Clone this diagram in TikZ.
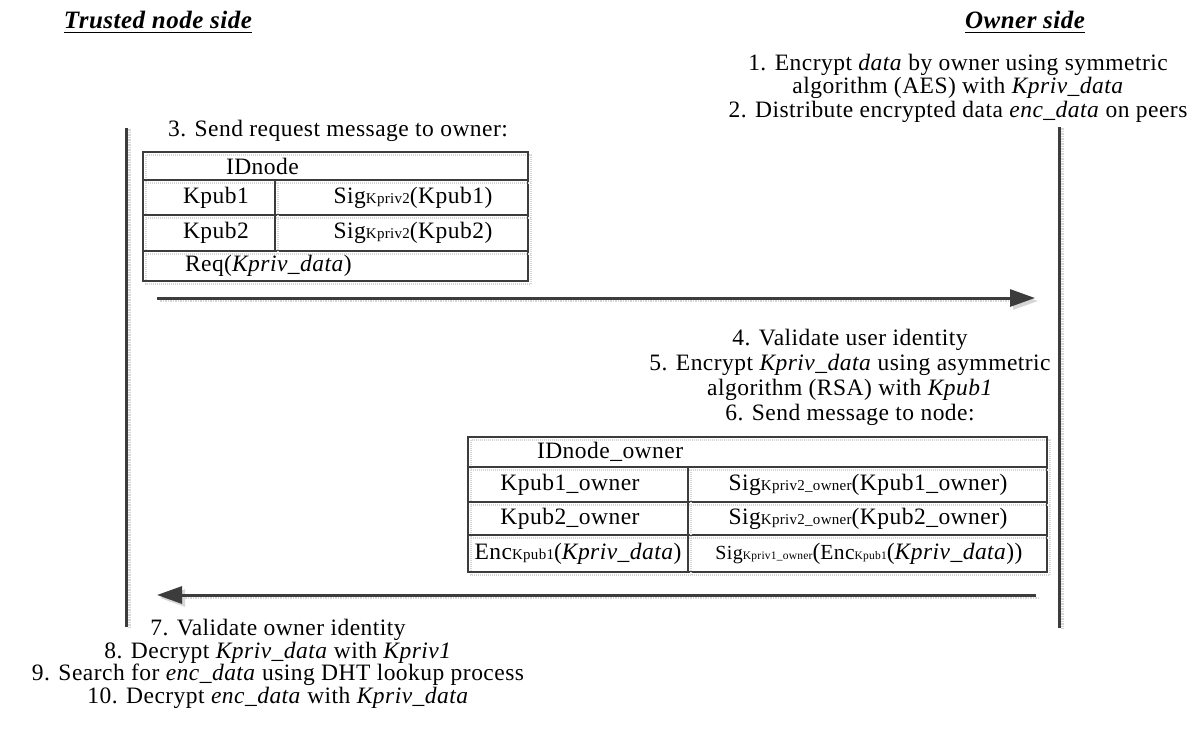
\documentclass[tikz,border=0pt]{standalone}
\usepackage{fontspec}
\setmainfont{Liberation Serif}[LetterSpace=2]
\usetikzlibrary{arrows.meta}
\definecolor{inkgray}{HTML}{3C3C3C}
\definecolor{shade}{HTML}{D6D6D6}
% smaller text used for the key names written after Sig / Enc
\newcommand{\keysub}[1]{{\fontsize{15}{15}\selectfont #1}}
\newcommand{\keytiny}[1]{{\fontsize{11.5}{11.5}\selectfont #1}}
\tikzset{
  every node/.style={inner sep=0pt, outer sep=0pt, text=black},
  body/.style={font=\fontsize{23.5}{24}\selectfont},
  heading/.style={font=\fontsize{25}{26}\selectfont\bfseries\itshape},
  headline/.style={draw=black, line width=1.8pt},
  lifeline/.style={draw=inkgray, line width=3pt,
    preaction={draw=shade, line width=3pt, dash pattern=on 1.5pt off 1pt,
      transform canvas={shift={(3pt,-1pt)}}}},
  message/.style={draw=inkgray, line width=3pt,
    -{Triangle[length=25pt,width=17pt]},
    preaction={draw=shade, line width=2.5pt, dash pattern=on 1.5pt off 1pt,
      transform canvas={shift={(3pt,-3pt)}}}},
  grid/.style={draw=inkgray, line width=1.8pt,
    preaction={draw=shade, line width=1.2pt, dash pattern=on 1pt off 1pt,
      transform canvas={shift={(3pt,-3pt)}}}},
}
\begin{document}
\begin{tikzpicture}[x=1pt, y=-1pt]
\useasboundingbox[fill=white] (0,0) rectangle (1190,729);

% column headings, underlined
\node[heading] (trusted) at (158,20) {Trusted node side};
\node[heading] (owner)   at (1025,20) {Owner side};
\draw[headline] ([yshift=-4pt]trusted.base west) -- ([yshift=-4pt]trusted.base east);
\draw[headline] ([yshift=-4pt]owner.base west) -- ([yshift=-4pt]owner.base east);

% lifelines
\coordinate (Ltop) at (126,128);
\coordinate (Lbot) at (126,627);
\coordinate (Rtop) at (1059,127);
\coordinate (Rbot) at (1059,628);
\draw[lifeline] (Ltop) -- (Lbot);
\draw[lifeline] (Rtop) -- (Rbot);

% owner preparation
\node[body, align=center, font=\fontsize{23.5}{23.5}\selectfont] (prep) at (958,88)
  {1. Encrypt \textit{data} by owner using symmetric\\
   algorithm (AES) with \textit{Kpriv\_data}\\
   2. Distribute encrypted data \textit{enc\_data} on peers};

% request message
\node[body] (step3) at (338,131) {3. Send request message to owner:};

\draw[grid] (143,152) rectangle (528,281);
\draw[grid] (143,180) -- (528,180);
\draw[grid] (143,215) -- (528,215);
\draw[grid] (143,251) -- (528,251);
\draw[grid] (275,180) -- (275,251);

\node[body, anchor=west] (idn) at (226,166) {IDnode};
\node[body] (kp1) at (216,197.5) {Kpub1};
\node[body] (sg1) at (413,197.5) {Sig\keysub{Kpriv2}(Kpub1)};
\node[body] (kp2) at (216,233) {Kpub2};
\node[body] (sg2) at (413,233) {Sig\keysub{Kpriv2}(Kpub2)};
\node[body, anchor=west] (req) at (185,266) {Req(\textit{Kpriv\_data})};

\coordinate (m1s) at (157,298);
\coordinate (m1e) at (1035,298);
\draw[message] (m1s) -- (m1e);

% owner answer
\node[body, align=center, font=\fontsize{23.5}{25}\selectfont] (ownsteps) at (850,377.5)
  {4. Validate user identity\\
   5. Encrypt \textit{Kpriv\_data} using asymmetric\\
   algorithm (RSA) with \textit{Kpub1}\\
   6. Send message to node:};

\draw[grid] (468,437) rectangle (1047,572);
\draw[grid] (468,467) -- (1047,467);
\draw[grid] (468,502) -- (1047,502);
\draw[grid] (468,535) -- (1047,535);
\draw[grid] (688,467) -- (688,572);

\node[body, anchor=west] (ido) at (537,452) {IDnode\_owner};
\node[body] (ko1) at (570,484.5) {Kpub1\_owner};
\node[body] (so1) at (868,484.5) {Sig\keysub{Kpriv2\_owner}(Kpub1\_owner)};
\node[body] (ko2) at (570,518.5) {Kpub2\_owner};
\node[body] (so2) at (868,518.5) {Sig\keysub{Kpriv2\_owner}(Kpub2\_owner)};
\node[body] (enc) at (578,553.5) {Enc\keysub{Kpub1}(\textit{Kpriv\_data})};
\node[body] (sge) at (869,553.5)
  {{\fontsize{20}{20}\selectfont Sig}\keytiny{Kpriv1\_owner}({\fontsize{21.5}{21.5}\selectfont Enc}\keytiny{Kpub1}(\textit{Kpriv\_data}))};

\coordinate (m2s) at (1036,595);
\coordinate (m2e) at (157,595);
\draw[message] (m2s) -- (m2e);

% trusted node finishing steps
\node[body, align=center, font=\fontsize{23.5}{21}\selectfont] (finish) at (278,664)
  {7. Validate owner identity\\
   8. Decrypt \textit{Kpriv\_data} with \textit{Kpriv1}\\
   9. Search for \textit{enc\_data} using DHT lookup process\\
   10. Decrypt \textit{enc\_data} with \textit{Kpriv\_data}};
\end{tikzpicture}
\end{document}
